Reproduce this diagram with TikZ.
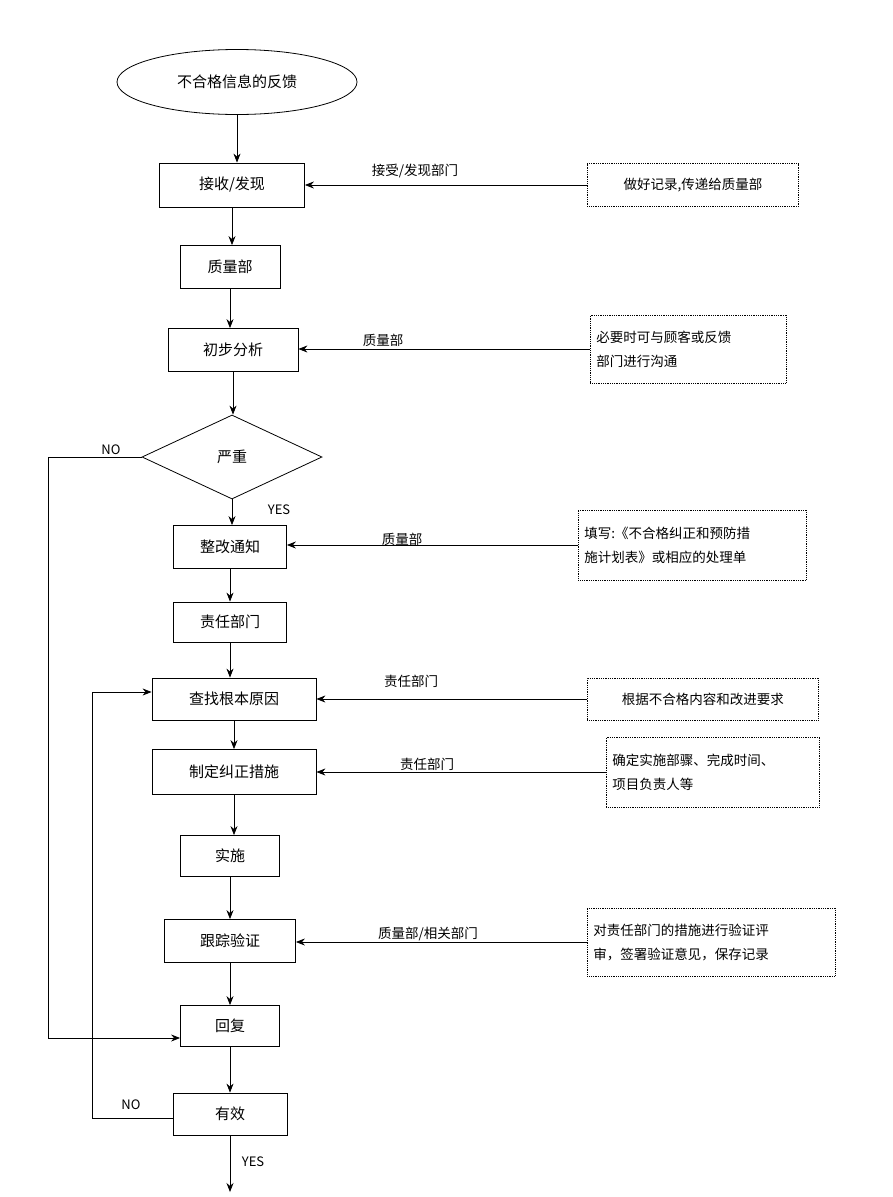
\documentclass[tikz,border=0pt]{standalone}
\usepackage{fontspec}
\setmainfont{Noto Sans CJK SC}
\usetikzlibrary{shapes.geometric,positioning,arrows.meta}
\begin{document}
\begin{tikzpicture}[x=1pt,y=-1pt, >={Stealth[length=9pt,width=7pt]}, thick,
  box/.style={draw, rectangle, inner sep=0pt, font=\fontsize{15}{18}\selectfont},
  note/.style={draw, densely dotted, rectangle, inner sep=6pt, align=left, font=\fontsize{13.5}{24}\selectfont, anchor=west},
  lbl/.style={font=\fontsize{13.5}{16}\selectfont},
  yn/.style={font=\fontsize{13}{16}\selectfont}]
\useasboundingbox (0,0) rectangle (892,1197);
% main chain
\node[draw, ellipse, minimum width=240, minimum height=65, font=\fontsize{15}{18}\selectfont] (fb) at (237,82) {不合格信息的反馈};
\node[box, minimum width=145, minimum height=44] (recv) at (232,185) {接收/发现};
\node[box, minimum width=100, minimum height=43] (qd) at (230,267) {质量部};
\node[box, minimum width=130, minimum height=43] (ana) at (233,350) {初步分析};
\node[draw, diamond, aspect=2.15, minimum width=180, minimum height=84, inner sep=0pt, font=\fontsize{15}{18}\selectfont] (sev) at (232,457) {严重};
\node[box, minimum width=113, minimum height=43] (ntf) at (230,547) {整改通知};
\node[box, minimum width=113, minimum height=40] (resp) at (230,622) {责任部门};
\node[box, minimum width=164, minimum height=42] (root) at (234,699) {查找根本原因};
\node[box, minimum width=164, minimum height=45] (plan) at (234,772) {制定纠正措施};
\node[box, minimum width=99, minimum height=41] (impl) at (230,856) {实施};
\node[box, minimum width=131, minimum height=43] (trk) at (230,941) {跟踪验证};
\node[box, minimum width=99, minimum height=41] (rep) at (230,1026) {回复};
\node[box, minimum width=114, minimum height=42] (eff) at (230,1114) {有效};
\coordinate (end) at (232,1192);
\draw[->] (fb.south) -- (fb.south |- recv.north);
\draw[->] (recv.south) -- (recv.south |- qd.north);
\draw[->] (qd.south) -- (qd.south |- ana.north);
\draw[->] (ana.south) -- (ana.south |- sev.north);
\draw[->] (sev.south) -- (sev.south |- ntf.north);
\draw[->] (ntf.south) -- (ntf.south |- resp.north);
\draw[->] (resp.south) -- (resp.south |- root.north);
\draw[->] (root.south) -- (root.south |- plan.north);
\draw[->] (plan.south) -- (plan.south |- impl.north);
\draw[->] (impl.south) -- (impl.south |- trk.north);
\draw[->] (trk.south) -- (trk.south |- rep.north);
\draw[->] (rep.south) -- (rep.south |- eff.north);
\draw[->] (eff.south) -- (eff.south |- end);
\node[yn] (yes1) at (279,510) {YES};
\node[yn] (yes2) at (253,1162) {YES};
% loops
\draw[->] (sev.west) -- (48,457) -- (48,1038) -- (rep.west |- 0,1038);
\node[yn] (no1) at (111,450) {NO};
\draw[->] (eff.west |- 0,1118) -- (92,1118) -- (92,692) -- (root.west |- 0,692);
\node[yn] (no2) at (131,1105) {NO};
% side notes
\node[note, minimum height=43, minimum width=211] (n1) at (587,185) {做好记录,传递给质量部};
\node[note, minimum height=68, text width=184] (n2) at (590,349) {必要时可与顾客或反馈\\部门进行沟通};
\node[note, minimum height=70, text width=216] (n3) at (578,545) {填写:《不合格纠正和预防措\\施计划表》或相应的处理单};
\node[note, minimum height=42, minimum width=231] (n4) at (587,699) {根据不合格内容和改进要求};
\node[note, minimum height=70, text width=201] (n5) at (606,772) {确定实施部骤、完成时间、\\项目负责人等};
\node[note, minimum height=68, text width=236] (n6) at (587,942) {对责任部门的措施进行验证评\\审，签署验证意见，保存记录};
\draw[->] (n1.west) -- (recv.east |- n1.west);
\draw[->] (n2.west) -- (ana.east |- n2.west);
\draw[->] (n3.west) -- (ntf.east |- n3.west);
\draw[->] (n4.west) -- (root.east |- n4.west);
\draw[->] (n5.west) -- (plan.east |- n5.west);
\draw[->] (n6.west) -- (trk.east |- n6.west);
\node[lbl] (l1) at (415,171) {接受/发现部门};
\node[lbl] (l2) at (383,340) {质量部};
\node[lbl] (l3) at (402,539) {质量部};
\node[lbl] (l4) at (411,681) {责任部门};
\node[lbl] (l5) at (427,764) {责任部门};
\node[lbl] (l6) at (428,934) {质量部/相关部门};
\end{tikzpicture}
\end{document}
